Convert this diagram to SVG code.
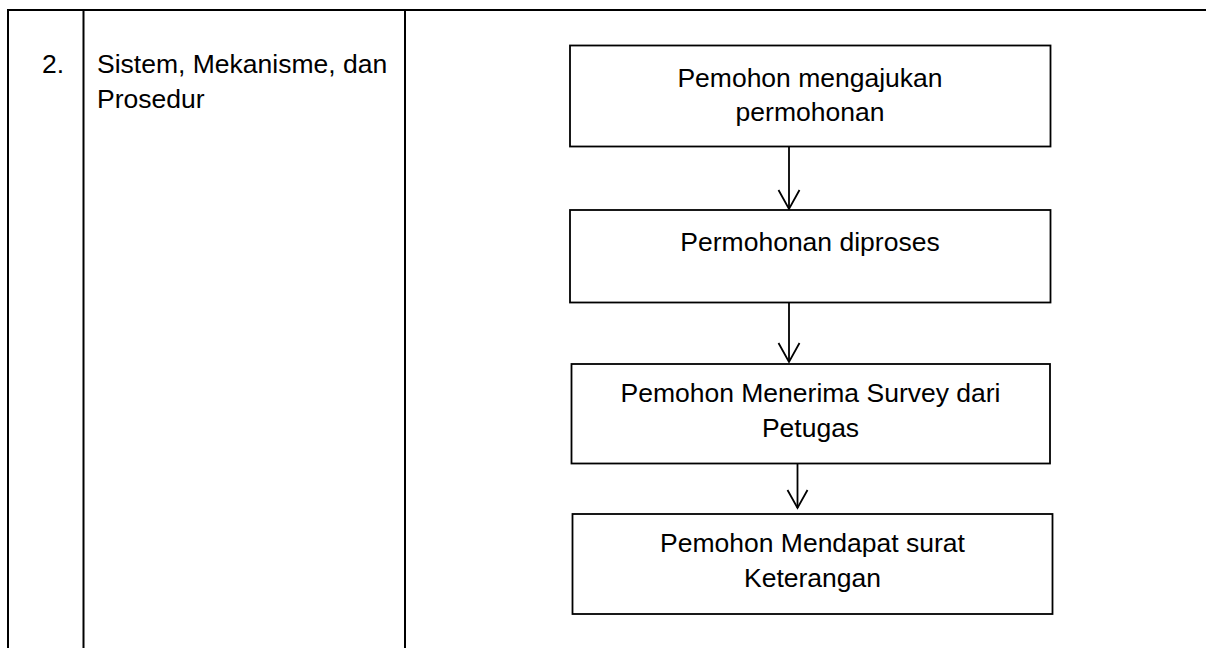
<svg xmlns="http://www.w3.org/2000/svg" width="1206" height="648" viewBox="0 0 1206 648">
<style>
.tbl{stroke:#000;stroke-width:2;fill:none}
.box{fill:#fff;stroke:#000;stroke-width:1.8}
.t{font-family:"Liberation Sans",Arial,sans-serif;font-size:26.5px;fill:#000}
.c{text-anchor:middle}
.con{stroke:#000;stroke-width:1.8;fill:none}
</style>
<g id="table">
<line class="tbl" x1="7" y1="10" x2="1206" y2="10"/>
<line class="tbl" x1="8" y1="9" x2="8" y2="648"/>
<line class="tbl" x1="83.5" y1="10" x2="83.5" y2="648"/>
<line class="tbl" x1="405" y1="10" x2="405" y2="648"/>
<text class="t" x="42" y="73">2.</text>
<text class="t" x="97" y="73">Sistem, Mekanisme, dan</text>
<text class="t" x="97" y="108">Prosedur</text>
</g>
<g id="connectors">
<line class="con" x1="789" y1="147" x2="789" y2="209"/>
<polyline class="con" points="778.5,190 789,209 799.5,190"/>
<line class="con" x1="789" y1="303" x2="789" y2="362"/>
<polyline class="con" points="778.5,343 789,362 799.5,343"/>
<line class="con" x1="797.5" y1="463" x2="797.5" y2="508"/>
<polyline class="con" points="787.5,490 797.5,508 807.5,490"/>
</g>
<g id="node1">
<rect class="box" x="570" y="45.5" width="480.5" height="101"/>
<text class="t c" x="810" y="87">Pemohon mengajukan</text>
<text class="t c" x="810" y="121">permohonan</text>
</g>
<g id="node2">
<rect class="box" x="570" y="210" width="480.5" height="92.5"/>
<text class="t c" x="810" y="251">Permohonan diproses</text>
</g>
<g id="node3">
<rect class="box" x="571.5" y="364" width="478.5" height="99.5"/>
<text class="t c" x="810.5" y="402">Pemohon Menerima Survey dari</text>
<text class="t c" x="810.5" y="437">Petugas</text>
</g>
<g id="node4">
<rect class="box" x="572.5" y="514" width="480" height="100"/>
<text class="t c" x="812.5" y="552">Pemohon Mendapat surat</text>
<text class="t c" x="812.5" y="587">Keterangan</text>
</g>
</svg>
